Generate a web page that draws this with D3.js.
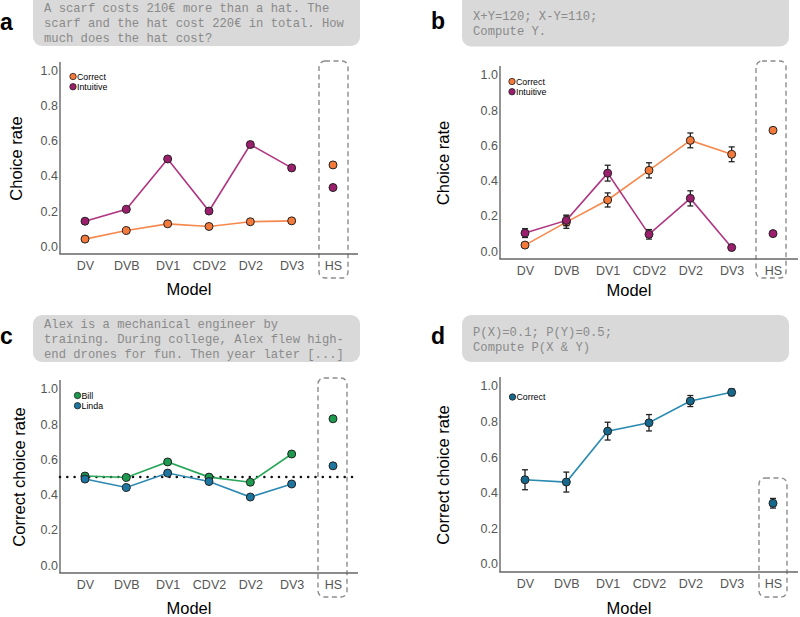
<!DOCTYPE html>
<html>
<head>
<meta charset="utf-8">
<script src="https://cdn.jsdelivr.net/npm/d3@7"></script>
<style>
  body { margin: 0; background: #fff; }
  svg { display: block; }
</style>
</head>
<body>
<div id="viz"></div>
<script>
var width = 800, height = 617;

var models = ['DV', 'DVB', 'DV1', 'CDV2', 'DV2', 'DV3', 'HS'];
var yTicks = [0, 0.2, 0.4, 0.6, 0.8, 1.0];

// panel a - scarf / hat
var aCorrect = [0.040, 0.089, 0.127, 0.112, 0.139, 0.144, 0.463];
var aCorrectErr = [0.008, 0.008, 0.009, 0.008, 0.009, 0.009, 0.012];
var aIntuitive = [0.142, 0.210, 0.497, 0.200, 0.579, 0.446, 0.334];
var aIntuitiveErr = [0.010, 0.011, 0.013, 0.011, 0.013, 0.013, 0.012];

// panel b - X+Y
var bCorrect = [0.034, 0.164, 0.290, 0.458, 0.628, 0.549, 0.685];
var bCorrectErr = [0.012, 0.035, 0.040, 0.043, 0.042, 0.042, 0.013];
var bIntuitive = [0.102, 0.174, 0.442, 0.095, 0.299, 0.020, 0.099];
var bIntuitiveErr = [0.025, 0.030, 0.045, 0.027, 0.043, 0.007, 0.006];

// panel c - Bill / Linda
var cBill = [0.505, 0.497, 0.585, 0.499, 0.470, 0.630, 0.830];
var cBillErr = [0.010, 0.010, 0.010, 0.010, 0.010, 0.010, 0.008];
var cLinda = [0.488, 0.440, 0.522, 0.474, 0.386, 0.460, 0.563];
var cLindaErr = [0.010, 0.010, 0.010, 0.010, 0.010, 0.010, 0.008];

// panel d - P(X & Y)
var dCorrect = [0.473, 0.460, 0.746, 0.793, 0.915, 0.964, 0.341];
var dCorrectErr = [0.056, 0.056, 0.050, 0.046, 0.031, 0.019, 0.027];

var cOrange = '#f47a3c', cOrangeLine = '#f5884c';
var cMagenta = '#9c1f6e', cMagentaLine = '#b03580';
var cGreen = '#1d9a4e', cGreenLine = '#2aa75a';
var cBlue = '#1d76a0', cBlueLine = '#2d88b2';
var cTeal = '#16698c', cTealLine = '#2a8ab0';

var panels = [
	{ label: 'a', lx: 0, ly: 30, ax: 60, top: 62, bottom: 254, xEnd: 358,
	  box: [33, -10, 327, 56], text: ['A scarf costs 210\u20ac more than a hat. The', 'scarf and the hat cost 220\u20ac in total. How', 'much does the hat cost?'], tx: 44, ty: 12,
	  hs: [319, 61, 29, 217], yTitle: 'Choice rate', ytx: 22, mty: 295,
	  series: [
		{ name: 'Correct', v: aCorrect, e: aCorrectErr, fill: cOrange, line: cOrangeLine },
		{ name: 'Intuitive', v: aIntuitive, e: aIntuitiveErr, fill: cMagenta, line: cMagentaLine }
	  ], legend: [73, 76.5] },
	{ label: 'b', lx: 431, ly: 29, ax: 500, top: 66, bottom: 259, xEnd: 798,
	  box: [462, -10, 327, 56.5], text: ['X+Y=120; X-Y=110;', 'Compute Y.'], tx: 473, ty: 19.5,
	  hs: [756, 61, 30, 217], yTitle: 'Choice rate', ytx: 449, mty: 296,
	  series: [
		{ name: 'Correct', v: bCorrect, e: bCorrectErr, fill: cOrange, line: cOrangeLine },
		{ name: 'Intuitive', v: bIntuitive, e: bIntuitiveErr, fill: cMagenta, line: cMagentaLine }
	  ], legend: [512, 81.5] },
	{ label: 'c', lx: 0, ly: 344, ax: 60, top: 380, bottom: 573, xEnd: 358,
	  box: [33, 315, 327, 47], text: ['Alex is a mechanical engineer by', 'training. During college, Alex flew high-', 'end drones for fun. Then year later [...]'], tx: 44, ty: 328,
	  hs: [318, 378, 29, 219], yTitle: 'Correct choice rate', ytx: 25, mty: 614, chance: 0.5,
	  series: [
		{ name: 'Bill', v: cBill, e: cBillErr, fill: cGreen, line: cGreenLine },
		{ name: 'Linda', v: cLinda, e: cLindaErr, fill: cBlue, line: cBlueLine }
	  ], legend: [77.5, 395.5] },
	{ label: 'd', lx: 431, ly: 344, ax: 500, top: 377, bottom: 572, xEnd: 798,
	  box: [462, 315, 327, 47], text: ['P(X)=0.1; P(Y)=0.5;', 'Compute P(X & Y)'], tx: 473, ty: 336,
	  hs: [759, 478, 28, 119], yTitle: 'Correct choice rate', ytx: 449, mty: 614,
	  series: [
		{ name: 'Correct', v: dCorrect, e: dCorrectErr, fill: cTeal, line: cTealLine }
	  ], legend: [512.5, 397] }
];

var svg = d3.select('#viz').append('svg')
	.attr('width', width)
	.attr('height', height);

panels.forEach(function(p) {
	var g = svg.append('g');

	var x = d3.scalePoint().domain(models).range([p.ax + 25, p.ax + 273]);
	var y = d3.scaleLinear().domain([-0.045, 1.05]).range([p.bottom, p.top]);

	// question box
	g.append('rect')
		.attr('x', p.box[0]).attr('y', p.box[1])
		.attr('width', p.box[2]).attr('height', p.box[3])
		.attr('rx', 9).attr('ry', 9)
		.attr('fill', '#d9d9d9');

	g.selectAll('.qline')
		.data(p.text)
		.enter().append('text')
		.attr('x', p.tx)
		.attr('y', function(d, i) { return p.ty + i * 15; })
		.attr('font-family', '"Liberation Mono", "Courier New", monospace')
		.attr('font-size', '12.2px')
		.attr('fill', '#8a8a8a')
		.attr('xml:space', 'preserve')
		.text(function(d) { return d; });

	g.append('text')
		.attr('x', p.lx).attr('y', p.ly)
		.attr('font-family', '"Liberation Sans", Arial, sans-serif')
		.attr('font-weight', 'bold')
		.attr('font-size', '23px')
		.text(p.label);

	// dashed HS box
	g.append('rect')
		.attr('x', p.hs[0]).attr('y', p.hs[1])
		.attr('width', p.hs[2]).attr('height', p.hs[3])
		.attr('rx', 6).attr('ry', 6)
		.attr('fill', 'none')
		.attr('stroke', '#8c8c8c')
		.attr('stroke-width', 1.4)
		.attr('stroke-dasharray', '5,3.5');

	// axes
	var yAxis = g.append('g')
		.attr('transform', 'translate(' + (p.ax - 2) + ',0)')
		.call(d3.axisLeft(y).tickValues(yTicks).tickSize(0).tickPadding(0)
			.tickFormat(d3.format('.1f')));
	var xAxis = g.append('g')
		.attr('transform', 'translate(0,' + (p.bottom + 4) + ')')
		.call(d3.axisBottom(x).tickSize(0).tickPadding(3));
	[yAxis, xAxis].forEach(function(a) {
		a.select('.domain').remove();
		a.selectAll('text')
			.attr('font-family', '"Liberation Sans", Arial, sans-serif')
			.attr('font-size', '12.5px')
			.attr('fill', '#555');
	});

	g.append('line')
		.attr('x1', p.ax).attr('x2', p.ax)
		.attr('y1', p.top).attr('y2', p.bottom)
		.attr('stroke', '#666').attr('stroke-width', 1.4);
	g.append('line')
		.attr('x1', p.ax - 0.7).attr('x2', p.xEnd)
		.attr('y1', p.bottom).attr('y2', p.bottom)
		.attr('stroke', '#666').attr('stroke-width', 1.4);

	// titles
	g.append('text')
		.attr('x', (p.ax + p.xEnd) / 2 - 20).attr('y', p.mty)
		.attr('text-anchor', 'middle')
		.attr('font-family', '"Liberation Sans", Arial, sans-serif')
		.attr('font-size', '16.5px')
		.text('Model');
	g.append('text')
		.attr('transform', 'translate(' + p.ytx + ',' + y(0.5) + ') rotate(-90)')
		.attr('text-anchor', 'middle')
		.attr('font-family', '"Liberation Sans", Arial, sans-serif')
		.attr('font-size', '16.5px')
		.text(p.yTitle);

	if (p.chance !== undefined) {
		g.append('line')
			.attr('x1', p.ax).attr('x2', p.xEnd - 4)
			.attr('y1', y(p.chance)).attr('y2', y(p.chance))
			.attr('stroke', '#111').attr('stroke-width', 2.6)
			.attr('stroke-linecap', 'round')
			.attr('stroke-dasharray', '0,7.3');
	}

	var line = d3.line()
		.x(function(d, i) { return x(models[i]); })
		.y(function(d) { return y(d); });

	p.series.forEach(function(s) {
		g.append('path')
			.datum(s.v.slice(0, 6))
			.attr('d', line)
			.attr('fill', 'none')
			.attr('stroke', s.line)
			.attr('stroke-width', 1.6);
	});

	p.series.forEach(function(s) {
		var pts = s.v.map(function(v, i) { return { m: models[i], v: v, e: s.e[i] }; });
		var eb = g.selectAll('.eb-' + s.name)
			.data(pts)
			.enter().append('g');
		eb.append('line')
			.attr('x1', function(d) { return x(d.m); })
			.attr('x2', function(d) { return x(d.m); })
			.attr('y1', function(d) { return y(d.v - d.e); })
			.attr('y2', function(d) { return y(d.v + d.e); })
			.attr('stroke', '#222').attr('stroke-width', 1.3);
		[-1, 1].forEach(function(sg) {
			eb.append('line')
				.attr('x1', function(d) { return x(d.m) - 3; })
				.attr('x2', function(d) { return x(d.m) + 3; })
				.attr('y1', function(d) { return y(d.v + sg * d.e); })
				.attr('y2', function(d) { return y(d.v + sg * d.e); })
				.attr('stroke', '#222').attr('stroke-width', 1.3);
		});
		g.selectAll('.pt-' + s.name)
			.data(pts)
			.enter().append('circle')
			.attr('cx', function(d) { return x(d.m); })
			.attr('cy', function(d) { return y(d.v); })
			.attr('r', 4)
			.attr('fill', s.fill)
			.attr('stroke', '#222')
			.attr('stroke-width', 1);
	});

	// legend
	var lg = g.selectAll('.lg')
		.data(p.series)
		.enter().append('g')
		.attr('transform', function(d, i) { return 'translate(' + p.legend[0] + ',' + (p.legend[1] + i * 10.2) + ')'; });
	lg.append('circle')
		.attr('r', 3.2)
		.attr('fill', function(d) { return d.fill; })
		.attr('stroke', '#222').attr('stroke-width', 0.8);
	lg.append('text')
		.attr('x', 4)
		.attr('y', 3.1)
		.attr('font-family', '"Liberation Sans", Arial, sans-serif')
		.attr('font-size', '8.8px')
		.text(function(d) { return d.name; });
});
</script>
</body>
</html>
